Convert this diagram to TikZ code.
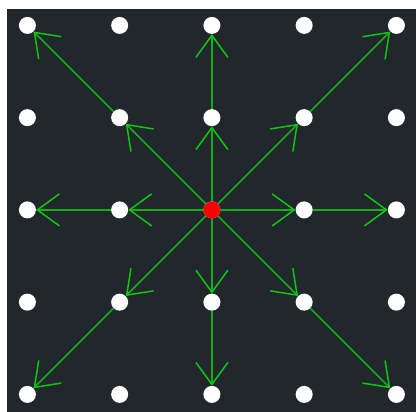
\documentclass[tikz,border=0pt]{standalone}
\usetikzlibrary{arrows.meta}
\definecolor{bgdark}{RGB}{34,39,46}
\definecolor{linegreen}{RGB}{20,175,20}
\definecolor{headgreen}{RGB}{10,200,10}
\tikzset{
  dot/.style={circle, fill=white, draw=none, inner sep=0pt, minimum size=17pt},
  src/.style={circle, fill=red, draw=none, inner sep=0pt, minimum size=17pt},
  arr/.style={draw=linegreen, line width=1.5pt,
    -{Straight Barb[length=22pt,width=32pt,line width=1.5pt,color=headgreen]}}
}
\begin{document}
\begin{tikzpicture}[x=1pt,y=-1pt]
\useasboundingbox (0,0) rectangle (416,412);
\fill[white] (0,0) rectangle (416,412);
\fill[bgdark] (7,9) rectangle (416,412);
\foreach \i in {0,...,4}{
  \foreach \j in {0,...,4}{
    \node[dot] (n\i\j) at ({27.4+92.25*\i},{25.4+92.25*\j}) {};
  }
}
\node[src] (c) at (n22) {};
% inner arrows
\draw[arr] (c) -- (n12);
\draw[arr] (c) -- (n32);
\draw[arr] (c) -- (n21);
\draw[arr] (c) -- (n23);
\draw[arr] (c) -- (n11);
\draw[arr] (c) -- (n31);
\draw[arr] (c) -- (n13);
\draw[arr] (c) -- (n33);
% outer arrows
\draw[arr] (n12) -- (n02);
\draw[arr] (n32) -- (n42);
\draw[arr] (n21) -- (n20);
\draw[arr] (n23) -- (n24);
\draw[arr] (n11) -- (n00);
\draw[arr] (n31) -- (n40);
\draw[arr] (n13) -- (n04);
\draw[arr] (n33) -- (n44);
\end{tikzpicture}
\end{document}
